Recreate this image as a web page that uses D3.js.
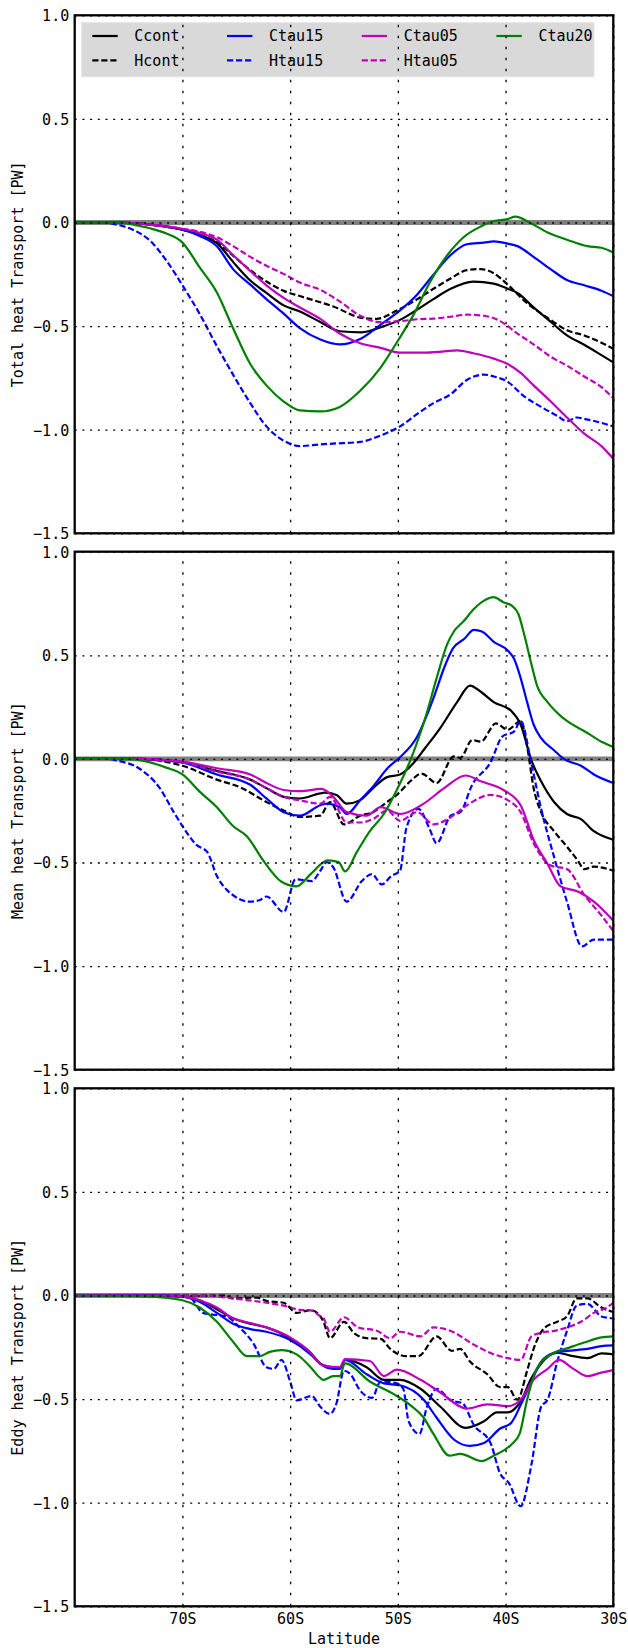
<!DOCTYPE html>
<html><head><meta charset="utf-8">
<script src="https://cdn.jsdelivr.net/npm/d3@7"></script>
<style>html,body{margin:0;padding:0;background:#fff;}svg{display:block;}</style>
</head><body>
<svg id="chart" width="628" height="1648"></svg>
<script>
// ---------- tick labels / categories ----------
const xTicks = [-70, -60, -50, -40, -30];
const xTickLabels = ["70S", "60S", "50S", "40S", "30S"];
const yTicks = [1.0, 0.5, 0.0, -0.5, -1.0, -1.5];
const seriesNames = ["Ccont", "Hcont", "Ctau15", "Htau15", "Ctau05", "Htau05", "Ctau20"];
const panelLabels = ["Total heat Transport [PW]", "Mean heat Transport [PW]", "Eddy heat Transport [PW]"];

// ---------- Total heat transport ----------
const totCcont = [[-80,0],[-76,0],[-73,-0.01],[-70,-0.035],[-68.4,-0.06],[-66.8,-0.1],[-65.3,-0.19],[-63.7,-0.28],[-62.2,-0.34],[-60.6,-0.40],[-59.1,-0.43],[-57.2,-0.48],[-55.4,-0.525],[-53.4,-0.53],[-51.3,-0.50],[-49.8,-0.47],[-48.2,-0.42],[-46.7,-0.37],[-45.1,-0.32],[-43,-0.285],[-41.1,-0.295],[-39.8,-0.32],[-38.9,-0.34],[-37.4,-0.41],[-35.8,-0.48],[-34.3,-0.545],[-32.7,-0.59],[-31.1,-0.64],[-30,-0.675]];
const totHcont = [[-80,0],[-76,0],[-73,-0.01],[-70,-0.035],[-68.4,-0.06],[-66.8,-0.095],[-65.3,-0.16],[-63.7,-0.23],[-62.2,-0.285],[-60.6,-0.33],[-59.1,-0.355],[-57.2,-0.385],[-56,-0.405],[-53.4,-0.46],[-52,-0.465],[-50.1,-0.425],[-48.2,-0.37],[-46.7,-0.32],[-45.1,-0.27],[-43.6,-0.23],[-42.3,-0.225],[-41.1,-0.245],[-39.8,-0.30],[-38,-0.39],[-36.1,-0.46],[-34.3,-0.52],[-32.7,-0.545],[-31.1,-0.58],[-30,-0.61]];
const totCtau15 = [[-80,0],[-76,0],[-73,-0.01],[-70,-0.035],[-68.4,-0.065],[-66.8,-0.115],[-65.3,-0.225],[-63.7,-0.30],[-62.2,-0.37],[-60.6,-0.44],[-59.1,-0.51],[-57.2,-0.565],[-55.4,-0.588],[-53.5,-0.562],[-51.6,-0.493],[-49.8,-0.424],[-48.2,-0.347],[-46.7,-0.252],[-45.1,-0.157],[-43.6,-0.105],[-42,-0.097],[-41.1,-0.091],[-39.8,-0.102],[-38.9,-0.114],[-37.4,-0.166],[-35.8,-0.226],[-34.3,-0.278],[-32.7,-0.303],[-31.1,-0.329],[-30,-0.355]];
const totHtau15 = [[-80,0],[-77.5,0],[-76.1,-0.01],[-74.55,-0.036],[-73,-0.088],[-71.5,-0.183],[-70,-0.303],[-68.4,-0.441],[-66.8,-0.597],[-65.3,-0.734],[-63.7,-0.872],[-62.2,-0.984],[-60.6,-1.053],[-59.1,-1.079],[-57.2,-1.071],[-56,-1.067],[-53.5,-1.059],[-51.6,-1.028],[-49.8,-0.984],[-48.2,-0.924],[-46.7,-0.872],[-45.1,-0.829],[-43.6,-0.76],[-42,-0.734],[-41.1,-0.743],[-39.8,-0.769],[-38.3,-0.838],[-36.7,-0.89],[-35.2,-0.933],[-34.3,-0.959],[-33.4,-0.941],[-32.5,-0.95],[-31.1,-0.967],[-30,-0.984]];
const totCtau05 = [[-80,0],[-76,0],[-73,-0.01],[-70,-0.03],[-68.4,-0.05],[-66.8,-0.083],[-65.3,-0.157],[-63.7,-0.234],[-62.2,-0.303],[-60.6,-0.364],[-59.1,-0.41],[-57.2,-0.465],[-55.4,-0.536],[-53.5,-0.583],[-51.6,-0.605],[-49.8,-0.628],[-47.6,-0.628],[-45.7,-0.622],[-44.5,-0.617],[-43,-0.631],[-41.1,-0.657],[-39.8,-0.683],[-38.6,-0.726],[-37.4,-0.786],[-35.8,-0.864],[-34.3,-0.941],[-32.7,-1.019],[-31.1,-1.079],[-30,-1.14]];
const totHtau05 = [[-80,0],[-76,0],[-73,-0.01],[-70,-0.03],[-68.4,-0.045],[-66.8,-0.071],[-65.3,-0.114],[-63.7,-0.166],[-62.2,-0.209],[-60.6,-0.248],[-59.1,-0.29],[-57.2,-0.325],[-55.4,-0.381],[-53.5,-0.45],[-51.6,-0.481],[-49.8,-0.476],[-48.2,-0.467],[-46.7,-0.464],[-45.1,-0.455],[-43.6,-0.445],[-42,-0.45],[-40.5,-0.476],[-38.9,-0.536],[-37.4,-0.588],[-35.8,-0.648],[-34.3,-0.691],[-32.7,-0.743],[-31.1,-0.795],[-30,-0.847]];
const totCtau20 = [[-80,0],[-76,0],[-74.55,-0.01],[-73,-0.028],[-71.5,-0.053],[-70,-0.097],[-68.4,-0.217],[-66.8,-0.338],[-65.3,-0.51],[-63.7,-0.683],[-62.2,-0.786],[-60.6,-0.864],[-59.1,-0.907],[-57.2,-0.912],[-55.4,-0.89],[-53.5,-0.812],[-51.6,-0.7],[-50.1,-0.579],[-48.5,-0.441],[-47,-0.286],[-45.4,-0.157],[-43.9,-0.071],[-42.3,-0.019],[-41.1,0.007],[-39.8,0.016],[-39.1,0.028],[-37.7,-0.002],[-36.1,-0.048],[-34.3,-0.083],[-32.4,-0.114],[-31.1,-0.122],[-30,-0.145]];

// ---------- Mean heat transport ----------
const meanCcont = [[-80,0],[-74,0],[-72,-0.005],[-70,-0.017],[-66.8,-0.058],[-63.7,-0.1],[-62.2,-0.141],[-60.6,-0.183],[-59.1,-0.191],[-57.2,-0.166],[-56.8,-0.163],[-55.7,-0.174],[-54.75,-0.216],[-53.5,-0.199],[-52.3,-0.141],[-51,-0.088],[-49.8,-0.075],[-48.5,-0.017],[-47.5,0.05],[-46.05,0.15],[-44.5,0.274],[-43.3,0.354],[-42.3,0.324],[-41.1,0.274],[-39.5,0.233],[-38.6,0.166],[-37.6,-0.008],[-36.7,-0.108],[-35.5,-0.208],[-34.3,-0.266],[-33,-0.291],[-31.8,-0.349],[-30,-0.39]];
const meanHcont = [[-80,0],[-74,0],[-72,-0.01],[-70,-0.033],[-66.8,-0.1],[-64.6,-0.138],[-62.2,-0.208],[-60.6,-0.249],[-59.1,-0.28],[-57.2,-0.274],[-56.3,-0.208],[-55,-0.316],[-53.5,-0.274],[-52.3,-0.257],[-51,-0.208],[-50.1,-0.174],[-48.85,-0.108],[-47.8,-0.071],[-46.4,-0.116],[-44.8,0.012],[-44.2,0.005],[-43.1,0.091],[-42.3,0.083],[-40.9,0.171],[-39.8,0.141],[-38.6,0.183],[-38,0.06],[-37.4,-0.14],[-36.7,-0.257],[-35.5,-0.349],[-34.3,-0.424],[-33.3,-0.49],[-32.7,-0.532],[-31.8,-0.52],[-30,-0.54]];
const meanCtau15 = [[-80,0],[-74,0],[-72,-0.005],[-70,-0.017],[-66.8,-0.075],[-63.7,-0.125],[-62.2,-0.191],[-60.6,-0.257],[-59.1,-0.274],[-57.2,-0.224],[-56.6,-0.216],[-55.4,-0.233],[-54.75,-0.266],[-53.5,-0.199],[-52.3,-0.133],[-50.9,-0.042],[-49.8,0.008],[-48.2,0.108],[-47.4,0.199],[-46.6,0.307],[-45.7,0.44],[-44.9,0.532],[-43.8,0.581],[-42.95,0.623],[-42.2,0.615],[-41.1,0.565],[-39.8,0.523],[-39.2,0.482],[-38.6,0.39],[-38,0.274],[-37.4,0.166],[-36.7,0.1],[-35.5,0.042],[-34.6,0],[-33,-0.033],[-31.8,-0.075],[-30,-0.116]];
const meanHtau15 = [[-80,0],[-77,0],[-76.1,-0.008],[-73.9,-0.05],[-72.1,-0.141],[-70.8,-0.257],[-70,-0.324],[-68.7,-0.415],[-67.7,-0.449],[-66.8,-0.565],[-65.9,-0.631],[-63.7,-0.689],[-62.8,-0.681],[-62.2,-0.664],[-60.6,-0.739],[-59.5,-0.581],[-58,-0.59],[-57.2,-0.54],[-56.6,-0.498],[-56,-0.523],[-54.75,-0.689],[-53.35,-0.59],[-52.4,-0.556],[-51.5,-0.606],[-50.6,-0.565],[-49.8,-0.54],[-49.2,-0.332],[-48.1,-0.241],[-47.1,-0.332],[-46.4,-0.407],[-45.1,-0.274],[-44.2,-0.257],[-43.1,-0.125],[-41.4,-0.017],[-40.3,0.108],[-39.2,0.133],[-38.6,0.183],[-37.6,-0.025],[-36.7,-0.241],[-35.5,-0.473],[-34.3,-0.689],[-32.9,-0.905],[-31.8,-0.872],[-30,-0.872]];
const meanCtau05 = [[-80,0],[-74,0],[-72,-0.004],[-70,-0.013],[-66.8,-0.045],[-63.7,-0.075],[-62.2,-0.116],[-60.6,-0.15],[-59.1,-0.156],[-57.1,-0.145],[-56,-0.183],[-54.75,-0.257],[-52.9,-0.274],[-51.6,-0.233],[-49.8,-0.266],[-47.6,-0.216],[-45.7,-0.141],[-43.7,-0.08],[-42.3,-0.108],[-40.2,-0.15],[-38.6,-0.224],[-37.4,-0.39],[-36.1,-0.507],[-34.9,-0.615],[-33.3,-0.64],[-31.8,-0.689],[-30,-0.781]];
const meanHtau05 = [[-80,0],[-74,0],[-72,-0.006],[-70,-0.017],[-66.8,-0.061],[-63.7,-0.1],[-62.2,-0.141],[-60.6,-0.183],[-59.1,-0.2],[-57.2,-0.216],[-56.3,-0.183],[-54.75,-0.307],[-53.5,-0.307],[-52.3,-0.29],[-51,-0.249],[-49.8,-0.299],[-48.2,-0.257],[-46.7,-0.316],[-45.1,-0.282],[-43.6,-0.224],[-41.4,-0.174],[-39.8,-0.199],[-38.6,-0.257],[-37.4,-0.407],[-35.8,-0.515],[-34.3,-0.532],[-32.7,-0.656],[-31.1,-0.756],[-30,-0.831]];
const meanCtau20 = [[-80,0],[-76,0],[-74.55,-0.002],[-73,-0.017],[-71.5,-0.042],[-70,-0.075],[-68.4,-0.158],[-66.8,-0.233],[-65.3,-0.324],[-64,-0.374],[-62.5,-0.49],[-60.8,-0.593],[-59.4,-0.615],[-58.1,-0.556],[-56.5,-0.49],[-55.5,-0.498],[-54.9,-0.543],[-53.8,-0.449],[-52.6,-0.349],[-51.3,-0.266],[-50.1,-0.15],[-48.85,-0.008],[-47.3,0.224],[-46.4,0.39],[-45.4,0.556],[-44.8,0.615],[-43.9,0.664],[-42.95,0.723],[-42,0.764],[-41.1,0.781],[-40.2,0.756],[-39.4,0.739],[-38.8,0.698],[-38.3,0.606],[-37.6,0.457],[-37.1,0.357],[-36.1,0.274],[-34.9,0.208],[-34.3,0.183],[-32.4,0.125],[-31.1,0.083],[-30,0.058]];

// ---------- Eddy heat transport ----------
const eddyCcont = [[-80,0],[-72,0],[-70,-0.005],[-68.4,-0.023],[-66.8,-0.066],[-65.3,-0.11],[-63.7,-0.136],[-62.2,-0.154],[-60,-0.206],[-58.1,-0.276],[-57.2,-0.328],[-56.9,-0.337],[-55.4,-0.354],[-54.9,-0.311],[-52.9,-0.346],[-51.3,-0.407],[-49.8,-0.407],[-47.9,-0.45],[-46.05,-0.537],[-43.7,-0.639],[-42,-0.607],[-40.8,-0.564],[-39.8,-0.564],[-38.6,-0.511],[-37.6,-0.398],[-36.7,-0.328],[-35.2,-0.276],[-34,-0.29],[-32.4,-0.302],[-31.1,-0.279],[-30,-0.284]];
const eddyHcont = [[-80,0],[-66,0],[-65.3,-0.014],[-63.1,-0.01],[-62.2,-0.026],[-60.6,-0.035],[-59.4,-0.084],[-58.1,-0.07],[-57.2,-0.1],[-56.9,-0.127],[-56.3,-0.206],[-55,-0.127],[-54.1,-0.18],[-52.9,-0.206],[-51.6,-0.209],[-50.7,-0.258],[-49.2,-0.293],[-48.1,-0.293],[-46.4,-0.197],[-45,-0.267],[-44.2,-0.258],[-43.3,-0.319],[-41.7,-0.38],[-40.5,-0.442],[-39.8,-0.442],[-38.9,-0.503],[-38,-0.363],[-37.4,-0.258],[-36.4,-0.157],[-35.2,-0.127],[-34.3,-0.101],[-33.4,-0.014],[-32.4,-0.014],[-31.1,-0.058],[-30,-0.08]];
const eddyCtau15 = [[-80,0],[-72,0],[-70,-0.005],[-68.4,-0.03],[-66.8,-0.084],[-65.3,-0.136],[-63.7,-0.162],[-62.2,-0.175],[-60,-0.215],[-58.1,-0.284],[-57.2,-0.33],[-56,-0.354],[-55.4,-0.354],[-54.9,-0.311],[-52.9,-0.38],[-51.3,-0.424],[-49.8,-0.433],[-47.6,-0.503],[-46.4,-0.59],[-44.8,-0.695],[-43.3,-0.726],[-42,-0.712],[-40.5,-0.642],[-39.5,-0.616],[-38.6,-0.529],[-37.6,-0.415],[-36.7,-0.319],[-35.5,-0.276],[-34.3,-0.267],[-32.4,-0.258],[-31.1,-0.244],[-30,-0.241]];
const eddyHtau15 = [[-80,0],[-70,0],[-69.2,-0.014],[-68.1,-0.084],[-67.2,-0.092],[-65.9,-0.101],[-64.7,-0.154],[-63.4,-0.232],[-62.2,-0.346],[-61.5,-0.354],[-60.8,-0.311],[-60,-0.415],[-59.4,-0.506],[-58,-0.485],[-57.2,-0.537],[-56.3,-0.572],[-55.7,-0.52],[-55,-0.363],[-54.4,-0.38],[-53.5,-0.459],[-52.4,-0.494],[-51.6,-0.415],[-50.1,-0.424],[-49.5,-0.45],[-49,-0.607],[-48,-0.668],[-47.3,-0.537],[-46.4,-0.45],[-45.1,-0.506],[-44,-0.52],[-42.95,-0.625],[-41.4,-0.712],[-40.5,-0.86],[-39.7,-0.904],[-38.6,-1.017],[-37.6,-0.816],[-36.7,-0.537],[-36.1,-0.503],[-35.2,-0.319],[-34.3,-0.171],[-33.4,-0.049],[-32.4,-0.04],[-31.1,-0.101],[-30,-0.11]];
const eddyCtau05 = [[-80,0],[-72,0],[-70,-0.005],[-68.4,-0.023],[-66.8,-0.058],[-65.3,-0.11],[-63.7,-0.133],[-62.2,-0.154],[-60,-0.202],[-58.1,-0.276],[-57.2,-0.33],[-56.9,-0.337],[-55.4,-0.346],[-54.9,-0.307],[-52.6,-0.316],[-51.3,-0.389],[-50.1,-0.358],[-47.9,-0.407],[-46.05,-0.468],[-43.6,-0.546],[-41.7,-0.525],[-39.8,-0.534],[-38.6,-0.503],[-37.4,-0.407],[-36.1,-0.354],[-35.05,-0.311],[-33.7,-0.354],[-32.4,-0.389],[-31.1,-0.372],[-30,-0.36]];
const eddyHtau05 = [[-80,0],[-68,0],[-65.3,-0.014],[-62.2,-0.035],[-60.6,-0.049],[-59,-0.07],[-58.1,-0.072],[-57.2,-0.1],[-56.9,-0.11],[-56.3,-0.175],[-55,-0.105],[-53.7,-0.154],[-51.9,-0.171],[-50.7,-0.206],[-49.8,-0.175],[-47.9,-0.197],[-46.7,-0.154],[-45.1,-0.171],[-42.95,-0.237],[-41.1,-0.284],[-39.8,-0.302],[-38.6,-0.311],[-37.6,-0.197],[-36.7,-0.18],[-35.5,-0.171],[-34.3,-0.154],[-33,-0.127],[-31.8,-0.084],[-30.6,-0.058],[-30,-0.035]];
const eddyCtau20 = [[-80,0],[-73,-0.005],[-70,-0.023],[-68.4,-0.058],[-66.8,-0.127],[-65.3,-0.223],[-64,-0.293],[-62.8,-0.293],[-61.9,-0.272],[-60.8,-0.264],[-59.4,-0.284],[-58.1,-0.346],[-57.2,-0.398],[-56.9,-0.407],[-56,-0.389],[-55.4,-0.389],[-54.9,-0.328],[-52.6,-0.415],[-50.1,-0.485],[-48.85,-0.529],[-47.6,-0.59],[-46.7,-0.668],[-45.2,-0.773],[-44.2,-0.764],[-42.2,-0.799],[-41.1,-0.773],[-39.5,-0.721],[-38.7,-0.668],[-38,-0.503],[-37.1,-0.354],[-35.5,-0.276],[-34.3,-0.255],[-32.7,-0.227],[-31.1,-0.202],[-30,-0.197]];

// ---------- assemble ----------
const panelsData = [
  [totCcont, totHcont, totCtau15, totHtau15, totCtau05, totHtau05, totCtau20],
  [meanCcont, meanHcont, meanCtau15, meanHtau15, meanCtau05, meanHtau05, meanCtau20],
  [eddyCcont, eddyHcont, eddyCtau15, eddyHtau15, eddyCtau05, eddyHtau05, eddyCtau20]
];
const seriesColors = ["#000000", "#000000", "#0000ff", "#0000ff", "#bf00bf", "#bf00bf", "#008000"];
const seriesDashed = [false, true, false, true, false, true, false];

// ---------- layout ----------
const FONT = "'DejaVu Sans Mono', monospace";
const left = 74.7, right = 613.3;
const panelTops = [15.3, 551.7, 1088.3];
const panelH = 518;
const svg = d3.select("#chart");

const x = d3.scaleLinear().domain([-80, -30]).range([left, right]);
const fmt = d3.format(".1f");

panelsData.forEach((series, pi) => {
  const top = panelTops[pi], bottom = top + panelH;
  const y = d3.scaleLinear().domain([-1.5, 1.0]).range([bottom, top]);
  const g = svg.append("g");

  // zero reference line
  g.append("line")
    .attr("x1", x(-80)).attr("x2", x(-30))
    .attr("y1", y(0)).attr("y2", y(0))
    .attr("stroke", "#808080").attr("stroke-width", 4.8);

  // data lines
  const line = d3.line().x(d => x(d[0])).y(d => y(d[1])).curve(d3.curveMonotoneX);
  series.forEach((data, si) => {
    g.append("path").datum(data)
      .attr("d", line)
      .attr("fill", "none")
      .attr("stroke", seriesColors[si])
      .attr("stroke-width", 2.2)
      .attr("stroke-linejoin", "round")
      .attr("stroke-dasharray", seriesDashed[si] ? "6.2,2.8" : null);
  });

  // legend (top panel only)
  if (pi === 0) {
    const lg = svg.append("g");
    lg.append("rect").attr("x", 81.7).attr("y", 22.7).attr("width", 512.3).attr("height", 54)
      .attr("fill", "#d9d9d9").attr("stroke", "#e4e4e4").attr("stroke-width", 1);
    const colX = [92.3, 227, 361.7, 496.4];
    const rowY = [36, 60.3];
    seriesNames.forEach((name, si) => {
      const c = Math.floor(si / 2), r = si % 2;
      lg.append("line")
        .attr("x1", colX[c]).attr("x2", colX[c] + 25.4)
        .attr("y1", rowY[r]).attr("y2", rowY[r])
        .attr("stroke", seriesColors[si]).attr("stroke-width", 2.2)
        .attr("stroke-dasharray", seriesDashed[si] ? "6.2,2.8" : null);
      lg.append("text")
        .attr("x", colX[c] + 42).attr("y", rowY[r]).attr("dy", "0.36em")
        .attr("font-family", FONT).attr("font-size", 15).attr("fill", "#000")
        .text(name);
    });
  }

  // grid (drawn on top, like the original)
  const gridY = svg.append("g").attr("transform", `translate(${left},0)`)
    .call(d3.axisLeft(y).tickValues(yTicks).tickSize(-(right - left)).tickFormat(""));
  gridY.select(".domain").remove();
  gridY.selectAll("line").attr("stroke", "#000").attr("stroke-width", 1.3).attr("stroke-dasharray", "2,5.7");
  const gridX = svg.append("g").attr("transform", `translate(0,${bottom})`)
    .call(d3.axisBottom(x).tickValues(xTicks).tickSize(-panelH).tickFormat(""));
  gridX.select(".domain").remove();
  gridX.selectAll("line").attr("stroke", "#000").attr("stroke-width", 1.3).attr("stroke-dasharray", "2.5,8.5");

  // frame
  svg.append("rect").attr("x", left).attr("y", top).attr("width", right - left).attr("height", panelH)
    .attr("fill", "none").attr("stroke", "#000").attr("stroke-width", 2.3);

  // y tick labels
  const ya = svg.append("g").attr("transform", `translate(${left},0)`)
    .call(d3.axisLeft(y).tickValues(yTicks).tickSize(0).tickPadding(5.5).tickFormat(fmt));
  ya.select(".domain").remove();
  ya.selectAll("text").attr("font-family", FONT).attr("font-size", 15).attr("fill", "#000").attr("dy", "0.36em");

  // y label
  svg.append("text")
    .attr("transform", `translate(17.5,${top + panelH / 2}) rotate(-90)`)
    .attr("text-anchor", "middle").attr("dy", "0.36em")
    .attr("font-family", FONT).attr("font-size", 15).attr("fill", "#000")
    .text(panelLabels[pi]);

  // x axis labels (bottom panel only)
  if (pi === 2) {
    const xa = svg.append("g").attr("transform", `translate(0,${bottom})`)
      .call(d3.axisBottom(x).tickValues(xTicks).tickSize(0).tickPadding(7)
        .tickFormat((d, i) => xTickLabels[i]));
    xa.select(".domain").remove();
    xa.selectAll("text").attr("font-family", FONT).attr("font-size", 15).attr("fill", "#000");
    svg.append("text")
      .attr("x", (left + right) / 2).attr("y", 1643.5)
      .attr("text-anchor", "middle")
      .attr("font-family", FONT).attr("font-size", 15).attr("fill", "#000")
      .text("Latitude");
  }
});
</script>
</body></html>
